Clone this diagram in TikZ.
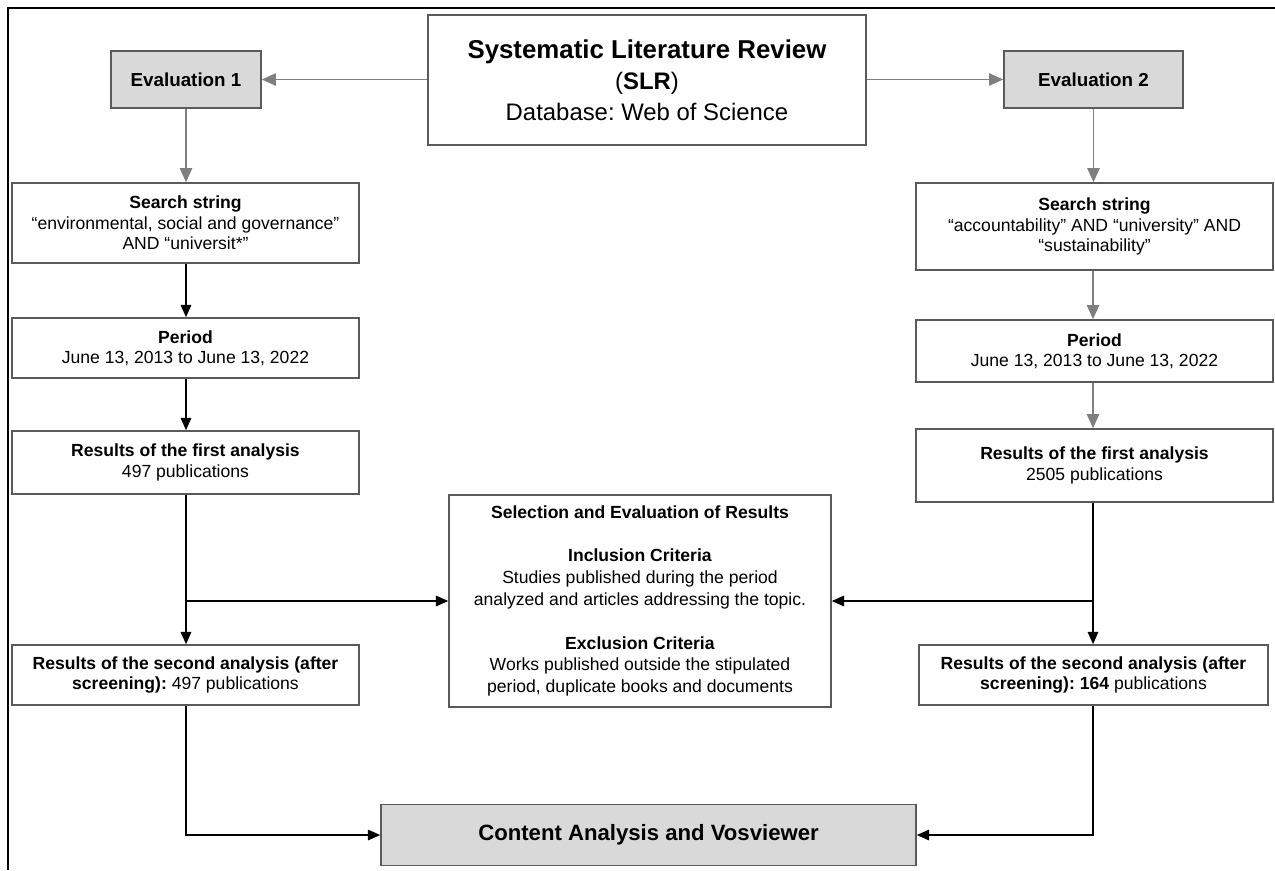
\documentclass[tikz,border=0pt]{standalone}
\usepackage{fontspec}
\setmainfont{Liberation Sans}
\usepackage{xcolor}
\usetikzlibrary{arrows.meta}
\definecolor{boxgray}{HTML}{D9D9D9}
\definecolor{linegray}{HTML}{5A5A5A}
\definecolor{arrowgray}{HTML}{7F7F7F}
\frenchspacing

\begin{document}
\begin{tikzpicture}[
    box/.style={draw=linegray, line width=0.9pt, fill=white, align=center,
      font=\fontsize{10}{11.6}\selectfont, inner sep=2pt},
    evalbox/.style={box, fill=boxgray, font=\fontsize{10.7}{12}\selectfont\bfseries},
    greyarrow/.style={draw=arrowgray, line width=0.9pt, -{Triangle[length=8pt,width=7pt]}},
    blackarrow/.style={draw=black, line width=0.8pt, -{Triangle[length=7pt,width=6pt]}}
  ]
  \useasboundingbox (0,0) rectangle (25.5,-17.4);
  % frame
  \draw[line width=1.4pt] (25.5,-0.16) -- (0.16,-0.16) -- (0.16,-17.4);

  % top row
  \node[box, minimum width=8.76cm, minimum height=2.6cm,
    font=\fontsize{13.6}{17.6}\selectfont] (slr) at (12.94,-1.6)
    {{\fontsize{14.7}{17.6}\selectfont\bfseries Systematic Literature Review}\\
     (\textbf{SLR})\\ Database: Web of Science};
  \node[evalbox, minimum width=3cm, minimum height=1.14cm] (eval1) at (3.72,-1.59) {Evaluation 1};
  \node[evalbox, minimum width=3.58cm, minimum height=1.14cm] (eval2) at (21.87,-1.59) {Evaluation 2};

  % left column
  \node[box, minimum width=6.94cm, minimum height=1.6cm] (search1) at (3.71,-4.46)
    {\textbf{Search string}\\ “environmental, social and governance”\\ AND “universit*”};
  \node[box, minimum width=6.94cm, minimum height=1.2cm] (period1) at (3.71,-6.96)
    {\textbf{Period}\\ June 13, 2013 to June 13, 2022};
  \node[box, minimum width=6.94cm, minimum height=1.26cm] (first1) at (3.71,-9.25)
    {\textbf{Results of the first analysis}\\ 497 publications};
  \node[box, minimum width=6.94cm, minimum height=1.2cm] (second1) at (3.71,-13.5)
    {\textbf{Results of the second analysis (after}\\ \textbf{screening):} 497 publications};

  % right column
  \node[box, minimum width=7.14cm, minimum height=1.74cm] (search2) at (21.89,-4.53)
    {\textbf{Search string}\\ “accountability” AND “university” AND\\ “sustainability”};
  \node[box, minimum width=7.14cm, minimum height=1.24cm] (period2) at (21.89,-7.02)
    {\textbf{Period}\\ June 13, 2013 to June 13, 2022};
  \node[box, minimum width=7.14cm, minimum height=1.46cm] (first2) at (21.89,-9.31)
    {\textbf{Results of the first analysis}\\ 2505 publications};
  \node[box, minimum width=6.98cm, minimum height=1.2cm] (second2) at (21.87,-13.5)
    {\textbf{Results of the second analysis (after}\\ \textbf{screening): 164} publications};

  % middle
  \node[box, minimum width=7.64cm, minimum height=4.24cm,
    font=\fontsize{10}{12.4}\selectfont] (select) at (12.8,-12.02)
    {\textbf{Selection and Evaluation of Results}\\[12.4pt]
     \textbf{Inclusion Criteria}\\ Studies published during the period\\
     analyzed and articles addressing the topic.\\[12.4pt]
     \textbf{Exclusion Criteria}\\ Works published outside the stipulated\\
     period, duplicate books and documents};
  \node[evalbox, minimum width=10.7cm, minimum height=1.22cm,
    font=\fontsize{12.6}{14}\selectfont\bfseries] (content) at (12.97,-16.7)
    {Content Analysis and Vosviewer};

  \coordinate (jleft) at (3.72,-12.02);
  \coordinate (jright) at (21.86,-12.02);

  % connectors
  \draw[greyarrow] (slr.west |- eval1) -- (eval1.east);
  \draw[greyarrow] (slr.east |- eval2) -- (eval2.west);
  \draw[greyarrow] (eval1.south) -- (eval1.south |- search1.north);
  \draw[greyarrow] (eval2.south) -- (eval2.south |- search2.north);
  \draw[blackarrow] (search1.south -| jleft) -- (period1.north -| jleft);
  \draw[blackarrow] (period1.south -| jleft) -- (first1.north -| jleft);
  \draw[blackarrow] (first1.south -| jleft) -- (second1.north -| jleft);
  \draw[greyarrow] (search2.south -| jright) -- (period2.north -| jright);
  \draw[greyarrow] (period2.south -| jright) -- (first2.north -| jright);
  \draw[blackarrow] (first2.south -| jright) -- (second2.north -| jright);
  \draw[blackarrow] (jleft) -- (select.west);
  \draw[blackarrow] (jright) -- (select.east);
  \draw[blackarrow] (second1.south -| jleft) |- (content.west);
  \draw[blackarrow] (second2.south -| jright) |- (content.east);
\end{tikzpicture}
\end{document}
